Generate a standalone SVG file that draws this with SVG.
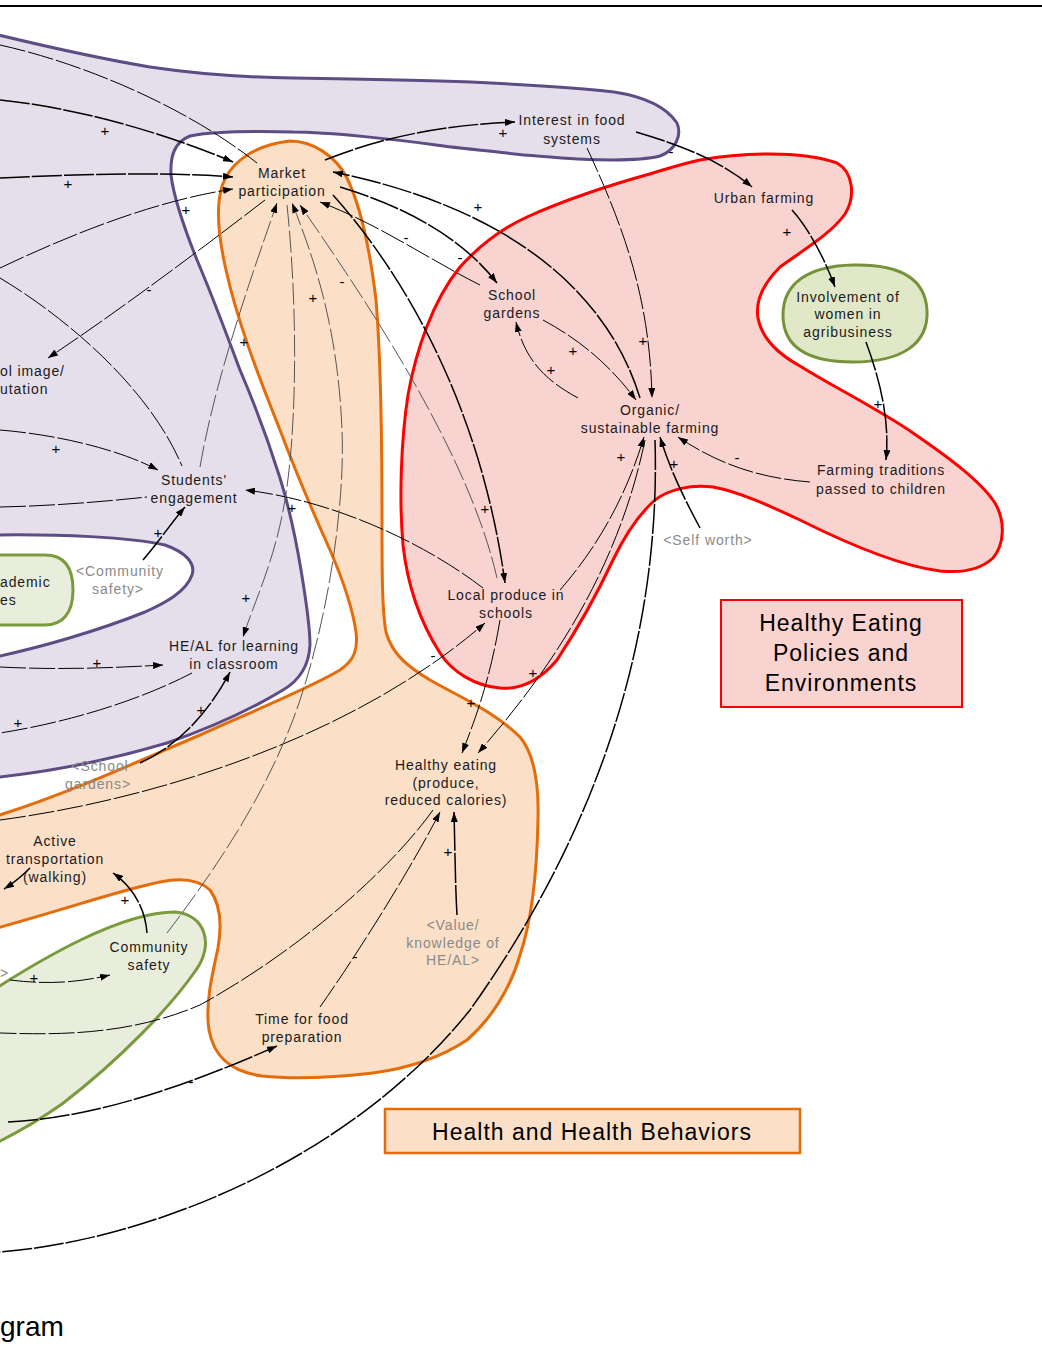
<svg xmlns="http://www.w3.org/2000/svg" width="1042" height="1359" viewBox="0 0 1042 1359">
<defs>
<marker id="ah" viewBox="0 0 10 7" refX="10" refY="3.5" markerWidth="10" markerHeight="7" markerUnits="userSpaceOnUse" orient="auto"><path d="M0,0 L10,3.5 L0,7 z" fill="#000"/></marker>
<style>
.n{font-family:"Liberation Sans",Arial,sans-serif;font-size:14px;fill:#1a1a1a;letter-spacing:0.9px;text-anchor:middle}
.gr{fill:#8a8a8a}
.e{text-anchor:end}
.st{text-anchor:start}
.s{font-family:"Liberation Sans",Arial,sans-serif;font-size:15px;fill:#000;text-anchor:middle}
.lg{font-family:"Liberation Sans",Arial,sans-serif;font-size:23px;fill:#000;letter-spacing:1px;text-anchor:middle}
.c{fill:none;stroke:#000;stroke-width:1;stroke-dasharray:26 3}
.ct{fill:none;stroke:#000;stroke-width:1.5;stroke-dasharray:30 2}
.cg{fill:none;stroke:#555;stroke-width:1;stroke-dasharray:22 4}
.a{marker-end:url(#ah)}
.pu{fill:#e5dfeb;stroke:#5e4c85;stroke-width:3}
.or{fill:#fbdfc6;stroke:#e46c0a;stroke-width:3}
.rd{fill:#f9d3d0;stroke:#ff0000;stroke-width:3}
.gn{fill:#e9eedc;stroke:#7a9a3e;stroke-width:3}
</style>
</defs>
<rect width="1042" height="1359" fill="#fff"/>
<path d="M0,6 H1042" stroke="#000" stroke-width="2"/>

<g id="regions">
<path class="pu" d="M-10,33 C60,50 120,62 150,67 C190,73 230,77 293,78 C360,79 420,80 471,82 C530,85 580,88 614,92 C640,96 665,105 677,123 C682,135 676,150 660,156 C640,161 600,160 579,159 C550,157 520,155 507,153 C470,149 440,146 436,145 C400,140 330,132 293,132 C250,131 215,131 190,136 C175,142 170,155 171,175 C174,200 185,230 197,260 C212,295 225,330 240,370 C255,405 268,440 280,478 C290,510 296,540 301,570 C306,600 310,625 310,645 C309,665 300,680 283,690 C250,710 210,728 167,743 C110,760 50,772 -10,778 Z"/>
<path d="M-10,535 C60,534 130,537 165,545 C185,552 196,563 192,575 C186,592 165,603 145,612 C100,630 40,648 -10,658 Z" fill="#fff" stroke="#5e4c85" stroke-width="3"/>
<path class="gn" d="M-20,555 H45 C62,555 73,565 73,590 C73,614 62,625 45,625 H-20 Z"/>
<path class="or" d="M290,141 C312,141 335,155 347,178 C360,205 370,250 376,300 C381,360 382,450 382,520 C382,570 382,610 386,632 C392,655 410,668 430,680 C460,697 495,712 520,737 C535,755 539,785 538,820 C537,870 532,920 520,955 C510,990 490,1020 467,1040 C440,1058 410,1068 373,1073 C330,1078 290,1079 262,1076 C232,1072 214,1058 209,1030 C205,1005 212,975 218,948 C222,925 221,905 210,890 C198,879 180,878 160,882 C120,890 70,908 -10,930 L-10,818 C60,797 130,765 200,735 C260,708 310,688 340,670 C355,660 358,648 356,632 C352,605 343,580 330,550 C312,510 295,470 280,430 C258,375 237,320 226,270 C218,235 216,210 221,190 C227,165 252,145 290,141 Z"/>
<path class="rd" d="M700,160 C740,153 800,150 837,163 C853,172 856,196 845,214 C830,235 800,252 780,267 C765,282 755,300 758,318 C762,340 780,355 800,366 C830,385 880,410 913,433 C945,455 980,480 995,503 C1006,522 1004,545 993,558 C980,570 960,573 940,571 C900,566 850,545 800,520 C770,506 740,492 713,487 C690,484 668,490 655,500 C638,515 625,535 613,560 C598,592 580,625 557,660 C540,680 520,690 500,688 C475,686 452,672 440,653 C422,625 408,590 403,545 C399,500 401,440 408,395 C416,350 433,300 460,267 C480,245 503,228 527,217 C560,202 610,185 653,173 C670,168 685,163 700,160 Z"/>
<path d="M853,265 C895,264 925,275 927,310 C929,345 900,362 853,362 C805,362 783,345 783,315 C783,282 810,266 853,265 Z" fill="#e0e8c8" stroke="#76933c" stroke-width="3"/>
<path class="gn" d="M-10,992 C40,960 120,912 175,912 C206,915 214,945 196,970 C172,1005 122,1058 62,1104 C38,1121 15,1134 -10,1146 Z"/>
</g>

<g id="connectors">
<path class="c" d="M0,45 C90,65 190,110 257,163"/>
<path class="ct a" d="M0,100 C80,108 170,135 233,162"/>
<path class="ct a" d="M0,178 C80,174 170,172 233,177"/>
<path class="c a" d="M0,268 C80,230 160,200 233,189"/>
<path class="c a" d="M265,200 C200,250 120,310 48,358"/>
<path class="c" d="M0,278 C70,320 150,390 182,466"/>
<path class="c a" d="M0,430 C60,435 120,450 158,470"/>
<path class="c" d="M0,507 C50,506 100,502 147,497"/>
<path class="c a" d="M483,588 C420,540 330,500 245,490"/>
<path class="cg a" d="M200,467 C215,380 250,280 277,203"/>
<path class="ct a" d="M143,560 C160,540 172,522 185,507"/>
<path class="cg a" d="M287,205 C297,300 298,420 285,500 C275,560 255,600 243,637"/>
<path class="ct a" d="M333,195 C400,270 480,400 505,583"/>
<path class="cg a" d="M497,578 C470,460 380,320 300,205"/>
<path class="ct a" d="M325,160 C380,138 440,125 515,122"/>
<path class="ct a" d="M640,398 C610,300 520,210 333,172"/>
<path class="ct a" d="M340,187 C400,205 460,235 497,283"/>
<path class="c a" d="M480,285 C430,260 380,225 320,202"/>
<path class="ct a" d="M636,132 C680,145 720,160 752,187"/>
<path class="c a" d="M587,148 C625,230 650,300 652,398"/>
<path class="c a" d="M543,320 C580,340 610,365 636,400"/>
<path class="c a" d="M578,398 C545,380 525,360 516,322"/>
<path class="ct a" d="M792,210 C810,230 825,260 835,287"/>
<path class="ct a" d="M866,342 C880,380 890,420 886,460"/>
<path class="c a" d="M810,482 C760,478 720,465 678,437"/>
<path class="ct a" d="M700,528 C685,500 670,470 660,437"/>
<path class="c a" d="M560,590 C595,550 625,500 644,437"/>
<path class="ct" d="M655,440 C660,600 620,800 470,1010 C350,1160 150,1240 0,1252"/>
<path class="ct a" d="M8,1122 C100,1118 200,1080 277,1046"/>
<path class="c a" d="M645,440 C620,560 560,660 478,753"/>
<path class="c a" d="M500,620 C490,680 475,720 462,753"/>
<path class="c a" d="M0,820 C150,800 350,740 485,623"/>
<path class="ct a" d="M140,763 C180,745 210,710 230,672"/>
<path class="c" d="M192,673 C140,700 70,722 0,733"/>
<path class="c a" d="M0,667 C60,670 110,668 163,665"/>
<path class="cg a" d="M167,933 C215,870 270,790 300,700 C330,610 345,500 342,430 C338,330 315,260 292,203"/>
<path class="c" d="M433,810 C390,870 300,950 200,1005 C130,1035 60,1035 0,1033"/>
<path class="c a" d="M320,1007 C360,950 410,870 440,812"/>
<path class="ct a" d="M457,915 C455,880 455,845 454,812"/>
<path class="ct a" d="M147,933 C145,905 130,885 113,873"/>
<path class="c a" d="M10,980 C50,985 80,982 110,975"/>
<path class="ct a" d="M30,868 C20,878 12,884 4,889"/>
</g>

<g id="polarities">
<text class="s" x="105" y="136">+</text>
<text class="s" x="68" y="189">+</text>
<text class="s" x="186" y="215">+</text>
<text class="s" x="149" y="295">-</text>
<text class="s" x="56" y="454">+</text>
<text class="s" x="292" y="513">+</text>
<text class="s" x="244" y="347">+</text>
<text class="s" x="158" y="538">+</text>
<text class="s" x="246" y="603">+</text>
<text class="s" x="485" y="514">+</text>
<text class="s" x="342" y="287">-</text>
<text class="s" x="313" y="303">+</text>
<text class="s" x="503" y="138">+</text>
<text class="s" x="478" y="212">+</text>
<text class="s" x="406" y="243">-</text>
<text class="s" x="460" y="263">-</text>
<text class="s" x="671" y="157">-</text>
<text class="s" x="643" y="346">+</text>
<text class="s" x="573" y="356">+</text>
<text class="s" x="551" y="375">+</text>
<text class="s" x="787" y="237">+</text>
<text class="s" x="878" y="409">+</text>
<text class="s" x="737" y="463">-</text>
<text class="s" x="674" y="469">+</text>
<text class="s" x="621" y="462">+</text>
<text class="s" x="533" y="678">+</text>
<text class="s" x="471" y="708">+</text>
<text class="s" x="433" y="661">-</text>
<text class="s" x="201" y="715">+</text>
<text class="s" x="18" y="728">+</text>
<text class="s" x="97" y="668">+</text>
<text class="s" x="125" y="905">+</text>
<text class="s" x="34" y="983">+</text>
<text class="s" x="355" y="962">-</text>
<text class="s" x="448" y="857">+</text>
<text class="s" x="191" y="1087">-</text>
</g>

<g id="node-market"><text class="n" x="282" y="178">Market</text><text class="n" x="282" y="196">participation</text></g>
<g id="node-interest"><text class="n" x="572" y="125">Interest in food</text><text class="n" x="572" y="144">systems</text></g>
<g id="node-urban"><text class="n" x="764" y="203">Urban farming</text></g>
<g id="node-women"><text class="n" x="848" y="302">Involvement of</text><text class="n" x="848" y="319">women in</text><text class="n" x="848" y="337">agribusiness</text></g>
<g id="node-gardens"><text class="n" x="512" y="300">School</text><text class="n" x="512" y="318">gardens</text></g>
<g id="node-organic"><text class="n" x="650" y="415">Organic/</text><text class="n" x="650" y="433">sustainable farming</text></g>
<g id="node-traditions"><text class="n" x="881" y="475">Farming traditions</text><text class="n" x="881" y="494">passed to children</text></g>
<g id="node-selfworth"><text class="n gr" x="708" y="545">&lt;Self worth&gt;</text></g>
<g id="node-students"><text class="n" x="194" y="485">Students'</text><text class="n" x="194" y="503">engagement</text></g>
<g id="node-image"><text class="n st" x="0" y="376">ol image/</text><text class="n st" x="0" y="394">utation</text></g>
<g id="node-academic"><text class="n st" x="0" y="587">ademic</text><text class="n st" x="0" y="605">es</text></g>
<g id="node-commsafety-ghost"><text class="n gr" x="120" y="576">&lt;Community</text><text class="n gr" x="118" y="594">safety&gt;</text></g>
<g id="node-heal"><text class="n" x="234" y="651">HE/AL for learning</text><text class="n" x="234" y="669">in classroom</text></g>
<g id="node-gardens-ghost"><text class="n gr" x="100" y="771">&lt;School</text><text class="n gr" x="98" y="789">gardens&gt;</text></g>
<g id="node-local"><text class="n" x="506" y="600">Local produce in</text><text class="n" x="506" y="618">schools</text></g>
<g id="node-healthy"><text class="n" x="446" y="770">Healthy eating</text><text class="n" x="446" y="788">(produce,</text><text class="n" x="446" y="805">reduced calories)</text></g>
<g id="node-active"><text class="n" x="55" y="846">Active</text><text class="n" x="55" y="864">transportation</text><text class="n" x="55" y="882">(walking)</text></g>
<g id="node-community"><text class="n" x="149" y="952">Community</text><text class="n" x="149" y="970">safety</text></g>
<g id="node-left-ghost"><text class="n gr st" x="0" y="978">&gt;</text></g>
<g id="node-value"><text class="n gr" x="453" y="930">&lt;Value/</text><text class="n gr" x="453" y="948">knowledge of</text><text class="n gr" x="453" y="965">HE/AL&gt;</text></g>
<g id="node-time"><text class="n" x="302" y="1024">Time for food</text><text class="n" x="302" y="1042">preparation</text></g>

<g id="legend-policies"><rect x="721" y="600" width="241" height="107" fill="#f9d3d0" stroke="#ff0000" stroke-width="2"/><text class="lg" x="841" y="631">Healthy Eating</text><text class="lg" x="841" y="661">Policies and</text><text class="lg" x="841" y="691">Environments</text></g>
<g id="legend-health"><rect x="385" y="1109" width="415" height="44" fill="#fbdfc6" stroke="#e46c0a" stroke-width="2.5"/><text class="lg" x="592" y="1140">Health and Health Behaviors</text></g>
<text x="0" y="1336" font-family="Liberation Sans, Arial, sans-serif" font-size="28" fill="#000">gram</text>
</svg>
